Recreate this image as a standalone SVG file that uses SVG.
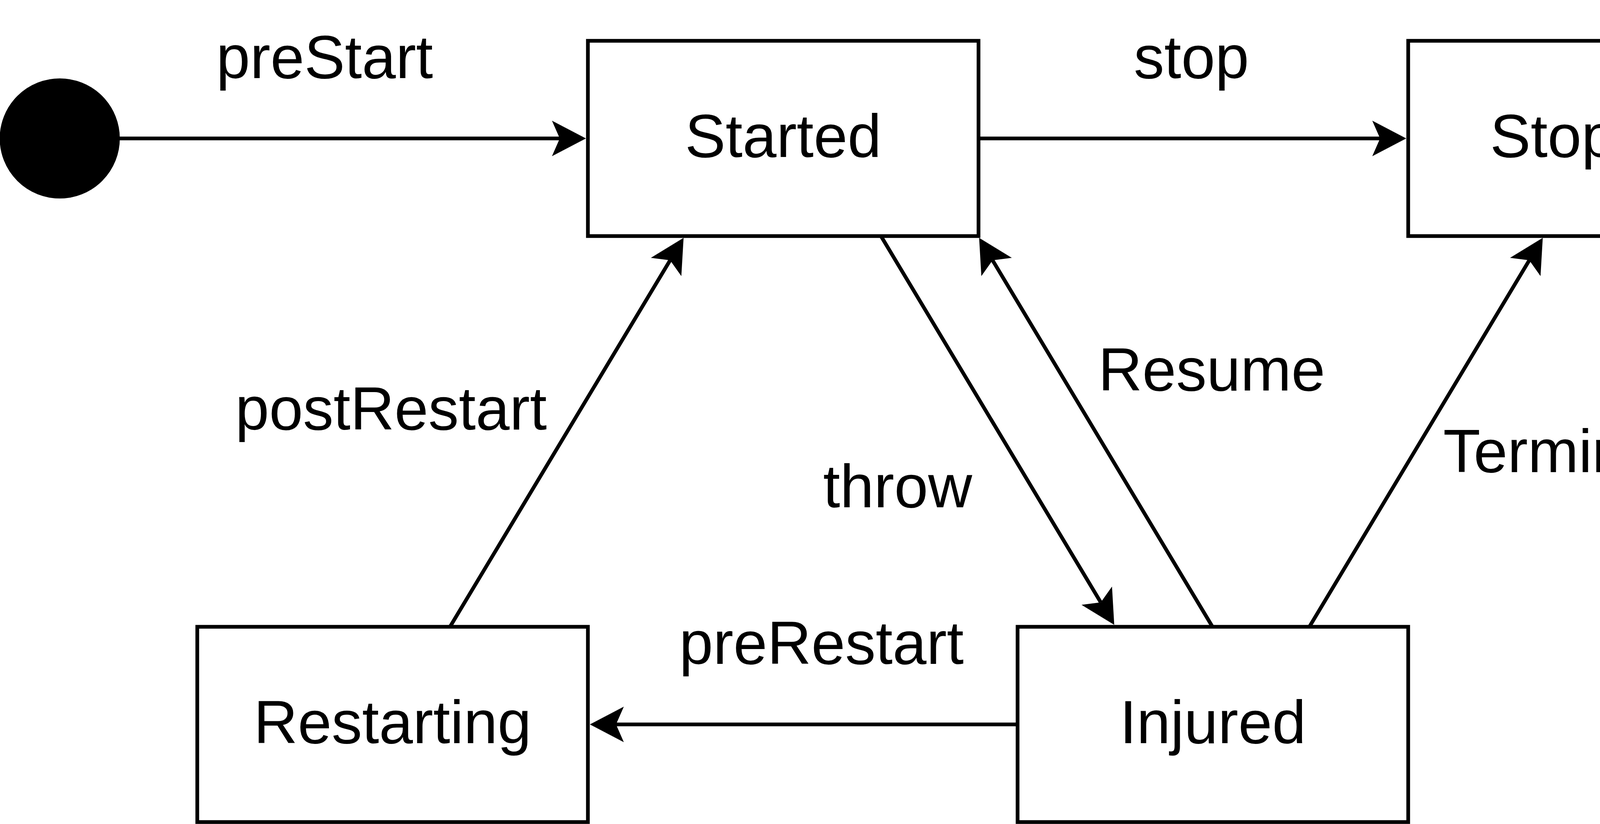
<svg xmlns="http://www.w3.org/2000/svg" width="6010" height="2110" viewBox="0 0 6010 2110">
<style>
.bg{fill:#ffffff}
.box{fill:#ffffff;stroke:#000000;stroke-width:9.5}
.edge{fill:none;stroke:#000000;stroke-width:9.5}
.lbl{font-family:"Liberation Sans",Arial,Helvetica,sans-serif;font-size:156px;fill:#000000;text-anchor:middle}
</style>
<defs>
<marker id="arrow" markerUnits="userSpaceOnUse" markerWidth="200" markerHeight="200" refX="0" refY="0" orient="auto" overflow="visible">
<path d="M67,0 L-20,-45.5 L0,0 L-20,45.5 Z" fill="#000000" stroke="none"/>
</marker>
</defs>
<rect class="bg" x="0" y="0" width="6010" height="2110"/>
<g id="connectors">
<line class="edge" x1="306" y1="354.5" x2="1433" y2="354.5" marker-end="url(#arrow)"/>
<line class="edge" x1="2505" y1="354.5" x2="3533" y2="354.5" marker-end="url(#arrow)"/>
<line class="edge" x1="4605" y1="354.5" x2="5636" y2="354.5" marker-end="url(#arrow)"/>
<line class="edge" x1="2605" y1="1855" x2="1577" y2="1855" marker-end="url(#arrow)"/>
<line class="edge" x1="1152" y1="1605" x2="1715.5" y2="666.5" marker-end="url(#arrow)"/>
<line class="edge" x1="2255" y1="604" x2="2818" y2="1542.5" marker-end="url(#arrow)"/>
<line class="edge" x1="3104" y1="1605" x2="2541" y2="666.5" marker-end="url(#arrow)"/>
<line class="edge" x1="3352" y1="1605" x2="3915" y2="666.5" marker-end="url(#arrow)"/>
<text class="lbl" x="831" y="200">preStart</text>
<text class="lbl" x="3050" y="200">stop</text>
<text class="lbl" x="5190" y="200">postStop</text>
<text class="lbl" x="2103" y="1700">preRestart</text>
<text class="lbl" x="1001" y="1100">postRestart</text>
<text class="lbl" x="2298" y="1299">throw</text>
<text class="lbl" x="3102" y="1000">Resume</text>
<text class="lbl" x="4037" y="1209">Terminate</text>
</g>
<g id="start">
<circle cx="153" cy="354.5" r="149" fill="#000000" stroke="#000000" stroke-width="9.5"/>
</g>
<g id="started">
<rect class="box" x="1505" y="104.5" width="1000" height="500"/>
<text class="lbl" x="2005" y="402">Started</text>
</g>
<g id="stopped">
<rect class="box" x="3605" y="104.5" width="1000" height="500"/>
<text class="lbl" x="4105" y="402">Stopped</text>
</g>
<g id="end">
<circle cx="5855" cy="354.5" r="149.5" fill="#ffffff" stroke="#ff0000" stroke-width="9.5"/>
<circle cx="5855" cy="354.5" r="110" fill="#000000" stroke="#ff0000" stroke-width="9.5"/>
</g>
<g id="restarting">
<rect class="box" x="505" y="1605" width="1000" height="500"/>
<text class="lbl" x="1005" y="1903">Restarting</text>
</g>
<g id="injured">
<rect class="box" x="2605" y="1605" width="1000" height="500"/>
<text class="lbl" x="3105" y="1903">Injured</text>
</g>
</svg>
